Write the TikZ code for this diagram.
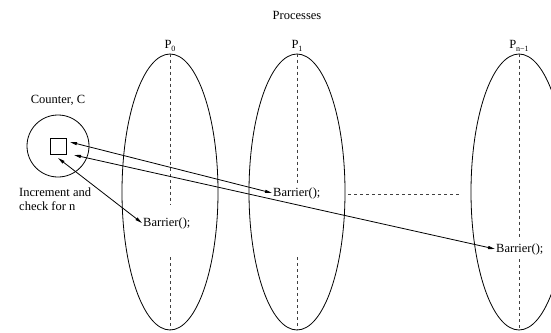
\documentclass[tikz,border=0pt]{standalone}
\usepackage{fontspec}
\setmainfont{Liberation Serif}
\usepackage{tikz}
\usetikzlibrary{positioning, arrows.meta, shapes.geometric}

\begin{document}
\begin{tikzpicture}[
  x=1pt, y=-1pt,
  font=\fontsize{12.5}{14}\selectfont,
  proc/.style={draw, ellipse, line width=0.8pt, minimum width=96pt, minimum height=276pt, inner sep=0pt},
  lbl/.style={inner sep=1pt},
  dsh/.style={line width=0.7pt, black!75, dash pattern=on 3pt off 3pt},
  arr/.style={{Triangle[length=7pt,width=3pt]}-{Triangle[length=7pt,width=3pt]}, line width=0.8pt}
]
  \useasboundingbox (0,0) rectangle (551,332);
  \clip (0,0) rectangle (551,332);
  \node[lbl] (title) at (297,15) {Processes};
  % the processes
  \node[proc] (p0) at (170,192) {};
  \node[proc] (p1) at (297,192) {};
  \node[proc] (pn) at (519,192) {};
  \node[lbl, above=1pt of p0.north] (l0) {P\raisebox{-3pt}{\footnotesize 0}};
  \node[lbl, above=1pt of p1.north] (l1) {P\raisebox{-3pt}{\footnotesize 1}};
  \node[lbl, above=1pt of pn.north] (ln) {P\raisebox{-3pt}{\footnotesize n−1}};
  \node[lbl, anchor=west] (b0) at (142,223) {Barrier();};
  \node[lbl, anchor=west] (b1) at (272,193) {Barrier();};
  \node[lbl, anchor=west] (bn) at (495,249) {Barrier();};
  \draw[dsh] (p0.north) -- (170,204);
  \draw[dsh] (170,257) -- (p0.south);
  \draw[dsh] (p1.north) -- (297,185);
  \draw[dsh] (297,257) -- (p1.south);
  \draw[dsh] (pn.north) -- (519,239);
  \draw[dsh] (519,259) -- (pn.south);
  \draw[dsh] (348,194) -- (460,194);
  % the counter
  \node[lbl] (ctrl) at (58,100) {Counter, C};
  \node[draw, circle, line width=0.8pt, minimum size=62pt] (ctr) at (58,146) {};
  \node[draw, line width=0.8pt, minimum size=16pt, inner sep=0pt] (reg) at (58,146) {};
  \node[lbl, anchor=west, align=left] (inc) at (18,199) {Increment and\\check for n};
  \coordinate (ra) at (70,142);
  \coordinate (rb) at (74,155);
  \coordinate (rc) at (58,158);
  \draw[arr] (ra) -- (b1.west);
  \draw[arr] (rb) -- (bn.west);
  \draw[arr] (rc) -- (b0.west);
\end{tikzpicture}
\end{document}
